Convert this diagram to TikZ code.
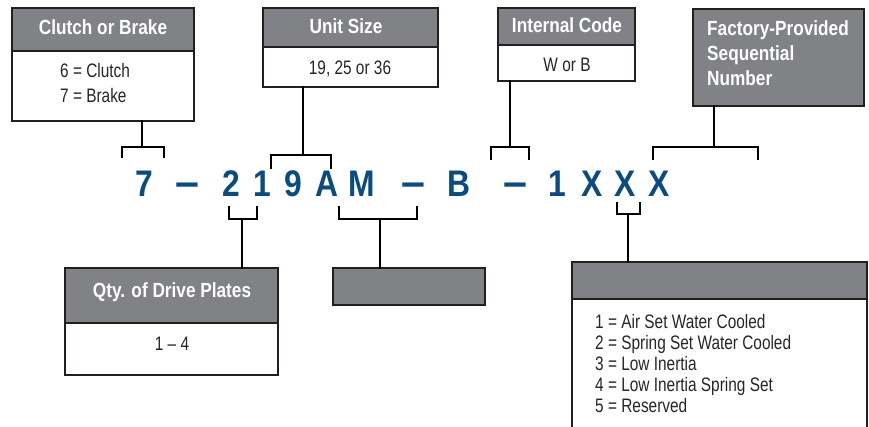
\documentclass[tikz,border=0pt]{standalone}
\usepackage{fontspec}
\usepackage{graphicx}
\setmainfont{Liberation Sans}
\newfontfamily\hdrfont[FakeStretch=0.84]{Liberation Sans}
\newfontfamily\bodyfont[FakeStretch=0.79]{Liberation Sans}
\newfontfamily\codefont[FakeStretch=0.86]{Liberation Sans}
\definecolor{hdrgray}{RGB}{128,130,133}
\definecolor{codeblue}{RGB}{10,75,130}
\definecolor{edge}{RGB}{35,31,32}
\newcommand{\codedash}{\scalebox{1.35}[1.15]{–}}
\tikzset{
  hdrbox/.style={fill=hdrgray, draw=edge, line width=1.5pt},
  bodybox/.style={fill=white, draw=edge, line width=1.5pt},
  hdrtext/.style={text=white, font=\hdrfont\bfseries\fontsize{20.5}{25}\selectfont, inner sep=0pt, anchor=base},
  bodytext/.style={text=black!85, font=\bodyfont\fontsize{19.5}{21}\selectfont, inner sep=0pt, anchor=base},
  codechar/.style={text=codeblue, font=\codefont\bfseries\fontsize{37}{40}\selectfont, inner sep=0pt, anchor=base},
  conn/.style={draw=black, line width=2.6pt, line cap=rect}
}
\begin{document}
\begin{tikzpicture}[x=1pt,y=-1pt]
\useasboundingbox (0,0) rectangle (869,427);
\clip (0,0) rectangle (869,427);

% ---- Box: Clutch or Brake
\draw[hdrbox] (12,8) rectangle (194,51);
\draw[bodybox] (12,51) rectangle (194,121);
\node[hdrtext] (cbh) at (103,34.3) {Clutch or Brake};
\node[bodytext, anchor=base west] (cb1) at (60,77.5) {6 = Clutch};
\node[bodytext, anchor=base west] (cb2) at (60,102.5) {7 = Brake};
\coordinate (cbb) at (142,121);

% ---- Box: Unit Size
\draw[hdrbox] (263,8) rectangle (438,47);
\draw[bodybox] (263,47) rectangle (438,87);
\node[hdrtext] (ush) at (346,33.3) {Unit Size};
\node[bodytext] (usb) at (350,75) {19, 25 or 36};
\coordinate (usc) at (303,87);

% ---- Box: Internal Code
\draw[hdrbox] (498,8) rectangle (635,45);
\draw[bodybox] (498,45) rectangle (635,81);
\node[hdrtext] (ich) at (567,32.7) {Internal Code};
\node[bodytext] (icb) at (567,71.7) {W or B};
\coordinate (icc) at (510,81);

% ---- Box: Factory-Provided Sequential Number
\draw[hdrbox] (693,9) rectangle (864,106);
\node[hdrtext, anchor=base west] (fp1) at (707,36) {Factory-Provided};
\node[hdrtext, anchor=base west] (fp2) at (707,61) {Sequential};
\node[hdrtext, anchor=base west] (fp3) at (707,86) {Number};
\coordinate (fpc) at (714,106);

% ---- Box: Qty. of Drive Plates
\draw[hdrbox] (65,268) rectangle (278,323);
\draw[bodybox] (65,323) rectangle (278,375);
\node[hdrtext] (qdh) at (172,297.7) {Qty. of Drive Plates};
\node[bodytext] (qdb) at (172,350.7) {1 – 4};
\coordinate (qdc) at (242,268);

% ---- Middle gray box
\draw[hdrbox] (333,268) rectangle (485,305);
\coordinate (mgc) at (380,268);

% ---- Bottom-right box
\draw[hdrbox] (572,262) rectangle (867,299);
\draw[bodybox] (572,299) rectangle (867,445);
\node[bodytext, anchor=base west] (br1) at (595,328.3) {1 = Air Set Water Cooled};
\node[bodytext, anchor=base west] (br2) at (595,349.4) {2 = Spring Set Water Cooled};
\node[bodytext, anchor=base west] (br3) at (595,370.5) {3 = Low Inertia};
\node[bodytext, anchor=base west] (br4) at (595,391.6) {4 = Low Inertia Spring Set};
\node[bodytext, anchor=base west] (br5) at (595,412.7) {5 = Reserved};
\coordinate (brc) at (628,262);

% ---- Code row
\node[codechar] (c1) at (144,197) {7};
\node[codechar] (c2) at (187,197) {\codedash};
\node[codechar] (c3) at (231.5,197) {2};
\node[codechar] (c4) at (262.5,197) {1};
\node[codechar] (c5) at (293,197) {9};
\node[codechar] (c6) at (327,197) {A};
\node[codechar] (c7) at (362,197) {M};
\node[codechar] (c8) at (413,197) {\codedash};
\node[codechar] (c9) at (458.5,197) {B};
\node[codechar] (c10) at (515,197) {\codedash};
\node[codechar] (c11) at (557.5,197) {1};
\node[codechar] (c12) at (592,197) {X};
\node[codechar] (c13) at (625,197) {X};
\node[codechar] (c14) at (659,197) {X};

% ---- Upper brackets
\coordinate (ub1l) at (122,157); \coordinate (ub1r) at (164,157); \coordinate (ub1m) at (142,147);
\draw[conn] (ub1l) |- (ub1m) -| (ub1r);
\draw[conn] (cbb) -- (ub1m);

\coordinate (ub2l) at (271,168); \coordinate (ub2r) at (331,168); \coordinate (ub2m) at (303,155);
\draw[conn] (ub2l) |- (ub2m) -| (ub2r);
\draw[conn] (usc) -- (ub2m);

\coordinate (ub3l) at (491,159); \coordinate (ub3r) at (529,159); \coordinate (ub3m) at (510,147);
\draw[conn] (ub3l) |- (ub3m) -| (ub3r);
\draw[conn] (icc) -- (ub3m);

\coordinate (ub4l) at (653,159); \coordinate (ub4r) at (758,159); \coordinate (ub4m) at (714,147);
\draw[conn] (ub4l) |- (ub4m) -| (ub4r);
\draw[conn] (fpc) -- (ub4m);

% ---- Lower brackets
\coordinate (lb1l) at (229,207); \coordinate (lb1r) at (257,207); \coordinate (lb1m) at (242,219);
\draw[conn] (lb1l) |- (lb1m) -| (lb1r);
\draw[conn] (lb1m) -- (qdc);

\coordinate (lb2l) at (339,207); \coordinate (lb2r) at (417,207); \coordinate (lb2m) at (380,219);
\draw[conn] (lb2l) |- (lb2m) -| (lb2r);
\draw[conn] (lb2m) -- (mgc);

\coordinate (lb3l) at (617,203); \coordinate (lb3r) at (640,203); \coordinate (lb3m) at (628,214);
\draw[conn] (lb3l) |- (lb3m) -| (lb3r);
\draw[conn] (lb3m) -- (brc);
\end{tikzpicture}
\end{document}
